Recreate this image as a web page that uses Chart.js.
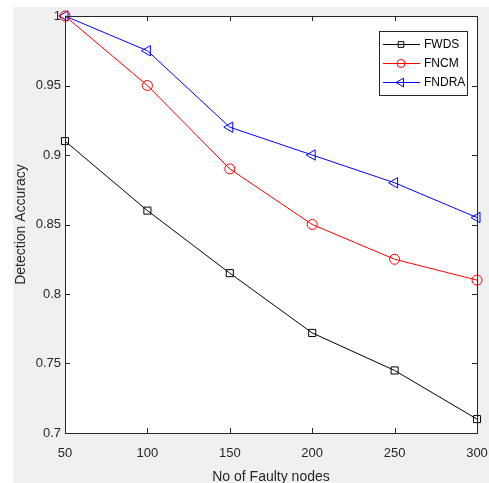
<!DOCTYPE html>
<html><head><meta charset="utf-8">
<script src="https://cdn.jsdelivr.net/npm/chart.js@4"></script>
<style>html,body{margin:0;padding:0;background:#fff}#wrap{width:489px;height:483px;position:relative}</style>
</head><body><div id="wrap"><canvas id="c" width="489" height="483"></canvas></div>
<script>
const faultyNodes = [50, 100, 150, 200, 250, 300];
const fwds  = [0.91, 0.86, 0.815, 0.772, 0.745, 0.71];
const fncm  = [1.0, 0.95, 0.89, 0.85, 0.825, 0.81];
const fndra = [1.0, 0.975, 0.92, 0.9, 0.88, 0.855];
const xTicks = [50, 100, 150, 200, 250, 300];
const yTicks = [0.7, 0.75, 0.8, 0.85, 0.9, 0.95, 1];

const toPts = arr => faultyNodes.map((x, i) => ({x, y: arr[i]}));
const axisColor = '#262626';
const FONT = '"Liberation Sans", Arial, sans-serif';

const bgPlugin = {
  id: 'bg',
  beforeDraw(chart) {
    const ctx = chart.ctx;
    ctx.save();
    ctx.fillStyle = '#f0f0f0';
    ctx.fillRect(13, 7, 489 - 13, 483 - 7);
    const a = chart.chartArea;
    ctx.fillStyle = '#ffffff';
    ctx.fillRect(a.left, a.top, a.right - a.left, a.bottom - a.top);
    ctx.restore();
  },
  afterDatasetsDraw(chart) {
    const ctx = chart.ctx, a = chart.chartArea;
    const xs = chart.scales.x, ys = chart.scales.y;
    ctx.save();
    ctx.strokeStyle = axisColor;
    ctx.lineWidth = 1;
    ctx.strokeRect(Math.round(a.left) + 0.5, Math.round(a.top) + 0.5, Math.round(a.right - a.left), Math.round(a.bottom - a.top));
    const L = 5;
    ctx.beginPath();
    xTicks.forEach(v => {
      const px = Math.round(xs.getPixelForValue(v)) + 0.5;
      ctx.moveTo(px, a.bottom); ctx.lineTo(px, a.bottom - L);
      ctx.moveTo(px, a.top); ctx.lineTo(px, a.top + L);
    });
    yTicks.forEach(v => {
      const py = Math.round(ys.getPixelForValue(v)) + 0.5;
      ctx.moveTo(a.left, py); ctx.lineTo(a.left + L, py);
      ctx.moveTo(a.right, py); ctx.lineTo(a.right - L, py);
    });
    ctx.stroke();

    // legend
    const bx = 379.5, by = 31.5, bw = 88, bh = 64;
    ctx.fillStyle = '#fff';
    ctx.fillRect(bx, by, bw, bh);
    ctx.strokeStyle = axisColor;
    ctx.strokeRect(bx, by, bw, bh);
    const rows = [44, 63, 82];
    chart.data.datasets.forEach((ds, i) => {
      const y = rows[i];
      ctx.strokeStyle = ds.borderColor;
      ctx.lineWidth = 1;
      ctx.beginPath(); ctx.moveTo(383, y + 0.5); ctx.lineTo(420, y + 0.5); ctx.stroke();
      ctx.fillStyle = 'rgba(0,0,0,0)';
      Chart.helpers.drawPoint(ctx, {pointStyle: ds.pointStyle, rotation: ds.pointRotation || 0, radius: ds.pointRadius - 1, borderWidth: 1}, 401, y + 0.5);
      ctx.fillStyle = '#000';
      ctx.font = '12px ' + FONT;
      ctx.textBaseline = 'middle';
      ctx.textAlign = 'left';
      ctx.fillText(ds.label, 424, y + 1);
    });
    ctx.restore();
  }
};

new Chart(document.getElementById('c'), {
  type: 'line',
  data: {
    datasets: [
      {label: 'FWDS', data: toPts(fwds), borderColor: '#000000', backgroundColor: 'rgba(0,0,0,0)', pointStyle: 'rect', pointRadius: 5, pointBorderWidth: 1, borderWidth: 1},
      {label: 'FNCM', data: toPts(fncm), borderColor: '#ff0000', backgroundColor: 'rgba(0,0,0,0)', pointStyle: 'circle', pointRadius: 5, pointBorderWidth: 1, borderWidth: 1},
      {label: 'FNDRA', data: toPts(fndra), borderColor: '#0000ff', backgroundColor: 'rgba(0,0,0,0)', pointStyle: 'triangle', pointRotation: -90, pointRadius: 6, pointBorderWidth: 1, borderWidth: 1}
    ]
  },
  options: {
    responsive: false,
    animation: false,
    clip: false,
    layout: {padding: {left: 13, top: 16, right: 12, bottom: 0}},
    plugins: {legend: {display: false}, tooltip: {enabled: false}},
    scales: {
      x: {
        type: 'linear', min: 50, max: 300,
        afterBuildTicks: s => { s.ticks = xTicks.map(v => ({value: v})); },
        afterFit: s => { s.height = 50; s.paddingRight = 0; s.paddingLeft = 0; },
        grid: {display: false, drawTicks: false},
        border: {display: false},
        ticks: {color: axisColor, font: {family: FONT, size: 13}, padding: 13, maxRotation: 0, autoSkip: false},
        title: {display: true, text: 'No of Faulty nodes', color: axisColor, font: {family: FONT, size: 14}, padding: {top: 0, bottom: -3}}
      },
      y: {
        type: 'linear', min: 0.7, max: 1,
        afterBuildTicks: s => { s.ticks = yTicks.map(v => ({value: v})); },
        afterFit: s => { s.width = 52; s.paddingTop = 0; s.paddingBottom = 0; },
        grid: {display: false, drawTicks: false},
        border: {display: false},
        ticks: {color: axisColor, font: {family: FONT, size: 13}, padding: 4, autoSkip: false, callback: v => String(Math.round(v * 100) / 100)},
        title: {display: true, text: 'Detection Accuracy', color: axisColor, font: {family: FONT, size: 14}, padding: {top: 0, bottom: 2}}
      }
    }
  },
  plugins: [bgPlugin]
});
</script>
</body></html>
